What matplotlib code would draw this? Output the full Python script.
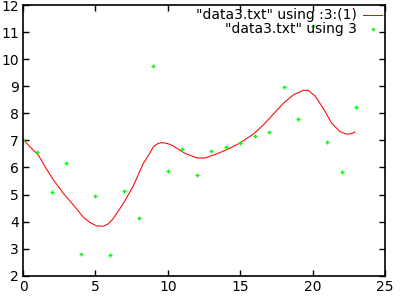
import matplotlib
matplotlib.use('Agg')
from matplotlib import pyplot as plt

# raw points from data3.txt (column 3, x = row index)
pointX = list(range(24))
pointY = [7.00, 6.58, 5.08, 6.15, 2.79, 4.93, 2.75, 5.12, 4.12, 9.73, 5.86, 6.67,
          5.71, 6.62, 6.74, 6.91, 7.15, 7.30, 8.96, 7.79, 11.22, 6.93, 5.82, 8.22]

# smoothed curve (acsplines)
curveX = [0.0, 0.5, 1.06, 1.52, 2.1, 2.79, 3.48, 4.17, 4.6, 5.09, 5.55, 5.9, 6.24,
          6.93, 7.6, 8.31, 8.72, 9.0, 9.3, 9.58, 10.0, 10.38, 11.19, 12.0, 12.57,
          13.38, 14.3, 15.0, 15.9, 16.6, 17.29, 17.98, 18.67, 19.36, 19.7, 20.17,
          20.74, 21.32, 21.9, 22.35, 22.7, 22.93]
curveY = [7.04, 6.75, 6.46, 6.03, 5.54, 5.04, 4.61, 4.16, 3.97, 3.84, 3.83, 3.92, 4.12,
          4.67, 5.30, 6.15, 6.50, 6.76, 6.88, 6.92, 6.88, 6.79, 6.52, 6.35, 6.35,
          6.50, 6.71, 6.91, 7.23, 7.57, 7.97, 8.37, 8.68, 8.85, 8.85, 8.64,
          8.18, 7.63, 7.32, 7.23, 7.25, 7.31]

plt.rcParams['font.family'] = ['DejaVu Sans']
plt.rcParams['font.size'] = 10

fig = plt.figure(figsize=(4.01, 3.01), dpi=100)
ax = fig.add_axes([0.0574, 0.084, 0.9027, 0.8993])

ax.plot(curveX, curveY, color='#ff0000', lw=0.75, label='"data3.txt" using :3:(1)')
ax.plot(pointX, pointY, ls='none', marker='+', ms=3.2, mew=1.0, color='#00ff00',
        label='"data3.txt" using 3')

ax.set_xlim(0, 25)
ax.set_ylim(2, 12)
ax.set_xticks(range(0, 26, 5))
ax.set_yticks(range(2, 13))
ax.tick_params(direction='in', top=True, right=True, length=4, width=1, pad=3,
               labelsize=10)
for s in ax.spines.values():
    s.set_linewidth(1.2)

ax.legend(loc='upper right', frameon=False, markerfirst=False, handlelength=1.3,
          handletextpad=0.45, labelspacing=0.0, borderaxespad=0.1, borderpad=0.15,
          fontsize=10)

plt.savefig('out.png', dpi=100)
